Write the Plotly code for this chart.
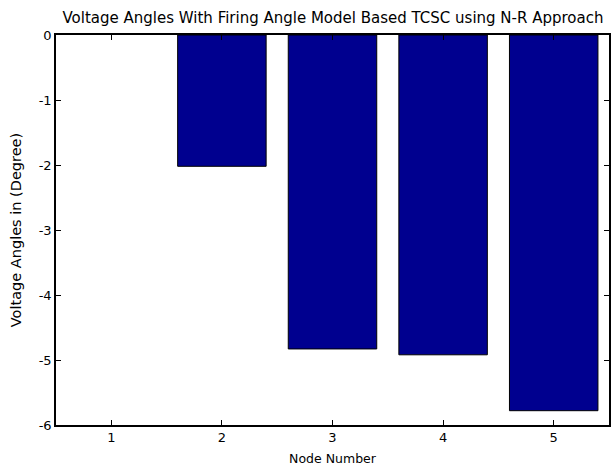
import plotly.graph_objects as go

nodes = [1, 2, 3, 4, 5]
angles = [0.0, -2.02, -4.83, -4.92, -5.78]
y_ticks = [0, -1, -2, -3, -4, -5, -6]

fig = go.Figure()
fig.add_trace(go.Bar(
    x=nodes, y=angles, width=0.8,
    marker=dict(color="#00008F",
                line=dict(color="black", width=[0 if v == 0 else 1 for v in angles])),
))

font = "DejaVu Sans, Liberation Sans, Arial, sans-serif"
axis_common = dict(
    showline=True, linecolor="black", linewidth=1.5, mirror="ticks",
    ticks="inside", ticklen=5, tickcolor="black", tickwidth=1,
    showgrid=False, zeroline=False,
    tickfont=dict(family=font, size=13, color="black"),
)

fig.update_layout(
    width=611, height=467,
    margin=dict(l=56, r=0, t=35, b=42),
    paper_bgcolor="white", plot_bgcolor="white",
    showlegend=False,
    title=dict(text="Voltage Angles With Firing Angle Model Based TCSC using N-R Approach",
               x=0.545, xanchor="center", y=0.963, yanchor="middle",
               font=dict(family=font, size=15, color="black")),
    xaxis=dict(range=[0.5, 5.5], tickvals=nodes, ticktext=[str(n) for n in nodes],
               title=dict(text="Node Number", font=dict(family=font, size=12.5, color="black"), standoff=10),
               **axis_common),
    yaxis=dict(range=[-6, 0], tickvals=y_ticks, ticktext=[str(v) for v in y_ticks],
               title=dict(text="Voltage Angles in (Degree)", font=dict(family=font, size=14.5, color="black"), standoff=14),
               **axis_common),
)

fig.write_html("out.html")
